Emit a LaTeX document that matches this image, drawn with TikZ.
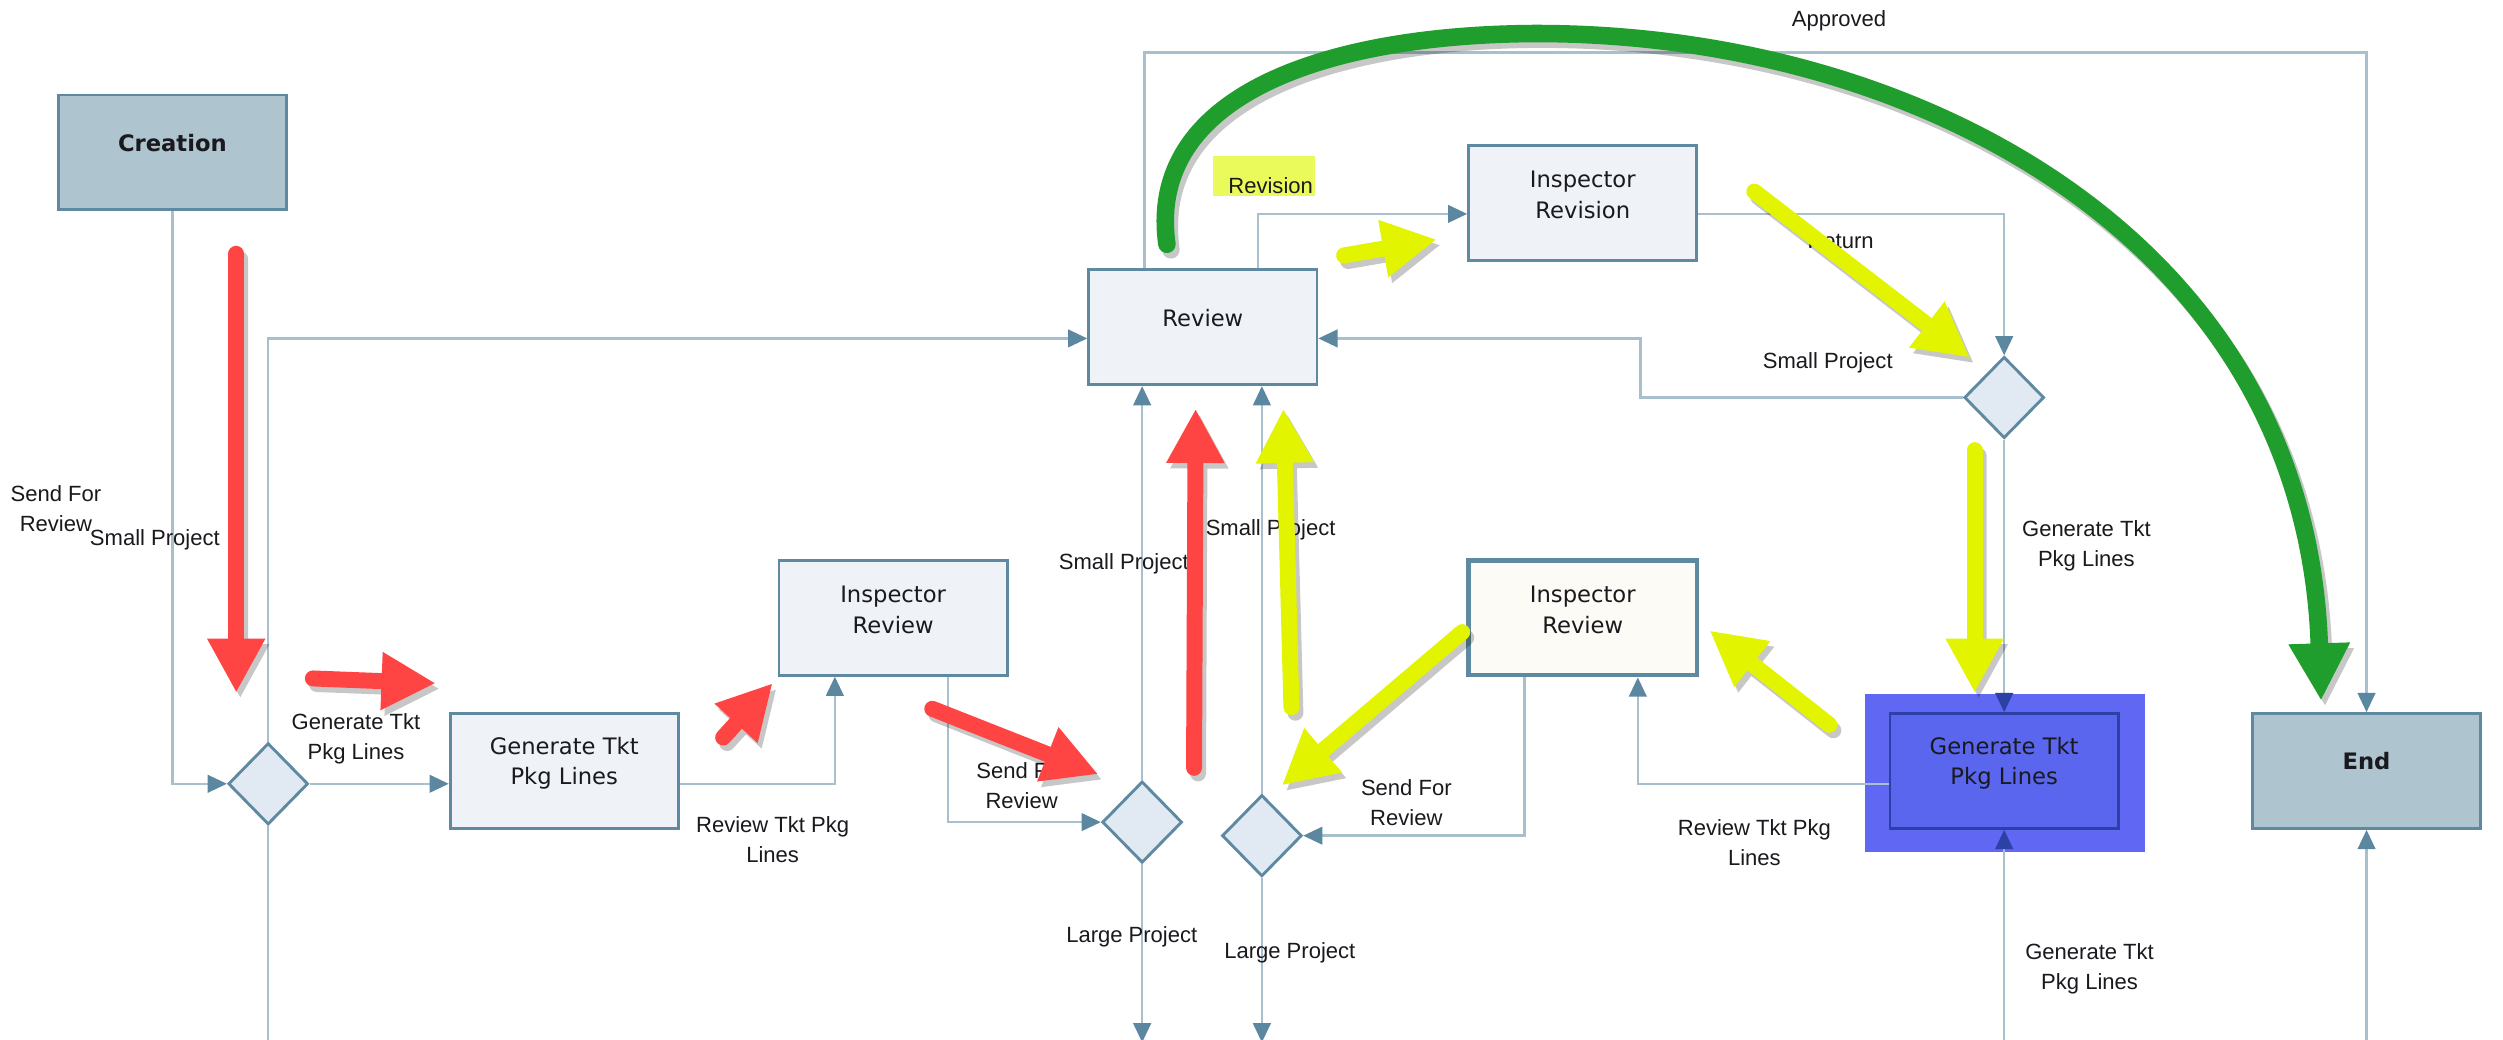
\documentclass[tikz,border=0pt]{standalone}
\usepackage{fontspec}
\setmainfont{DejaVu Sans}
\newfontfamily\lblfont{Liberation Sans}
\usetikzlibrary{arrows.meta,shapes.geometric}
\definecolor{boxborder}{RGB}{94,137,161}
\definecolor{boxfill}{RGB}{239,243,248}
\definecolor{termfill}{RGB}{174,196,207}
\definecolor{diafill}{RGB}{225,234,242}
\definecolor{linec}{RGB}{168,192,205}
\definecolor{arrowc}{RGB}{91,135,160}
\definecolor{creamfill}{RGB}{252,251,245}
\definecolor{hlblue}{RGB}{95,103,243}
\definecolor{genfill}{RGB}{90,102,238}
\definecolor{genborder}{RGB}{43,65,165}
\definecolor{redA}{RGB}{255,68,68}
\definecolor{yelA}{RGB}{226,244,0}
\definecolor{grnA}{RGB}{31,158,45}
\definecolor{revhlc}{RGB}{234,250,90}
\definecolor{txtc}{RGB}{25,25,30}
\tikzset{
  box/.style={draw=boxborder, line width=1.8pt, fill=boxfill, minimum width=143pt, minimum height=72pt, inner sep=0pt},
  term/.style={box, fill=termfill},
  dia/.style={diamond, draw=boxborder, line width=1.8pt, fill=diafill, minimum width=50pt, minimum height=51pt, inner sep=0pt},
  boxtext/.style={font=\fontsize{14.2}{19}\selectfont, align=center, text=txtc, inner sep=0pt},
  boldtext/.style={boxtext, font=\fontsize{14.2}{19}\selectfont\bfseries},
  lbl/.style={font=\lblfont\fontsize{13.8}{19}\selectfont, align=center, text=txtc, inner sep=0pt},
  conn/.style={draw=linec, line width=1.5pt, -{Triangle[length=12pt,width=11pt,color=arrowc]}},
  connb/.style={draw=linec, line width=1.5pt, -{Triangle[length=12pt,width=11pt,color=genborder]}},
  plainline/.style={draw=linec, line width=1.5pt},
  fat/.style={line width=10pt, line cap=round, -{Triangle[length=34pt,width=34pt]}},
  fatg/.style={line width=11pt, line cap=round, -{Triangle[length=36pt,width=36pt]}},
}
\newcommand\fatarrow[2]{%
  \begin{scope}[transform canvas={shift={(2.5pt,-3.5pt)}}]
    \begin{scope}[transparency group, opacity=0.22]
      \draw[#1, black] #2;
    \end{scope}
  \end{scope}
  \draw[#1] #2;
}
\begin{document}
\begin{tikzpicture}[x=1pt,y=-1pt]
\useasboundingbox[fill=white] (0,0) rectangle (1568,651);
\coordinate (bot) at (0,653);
\coordinate (apy) at (0,33);

% highlight behind the right Generate box
\node[fill=hlblue, minimum width=175pt, minimum height=99pt, inner sep=0pt] (genhl) at (1256,484.5) {};

% boxes
\node[term] (creation) at (108,95.5) {};
\node[boldtext] (creationT) at ([yshift=6pt]creation.center) {Creation};
\node[box] (review) at (753.5,205) {};
\node[boxtext] (reviewT) at ([yshift=6pt]review.center) {Review};
\node[box] (insprev) at (991.5,127) {};
\node[boxtext] (insprevT) at ([yshift=5pt]insprev.center) {Inspector\\Revision};
\node[box] (insrevL) at (559.5,387) {};
\node[boxtext] (insrevLT) at ([yshift=5pt]insrevL.center) {Inspector\\Review};
\node[box, fill=creamfill, line width=2.8pt] (insrevR) at (991.5,387) {};
\node[boxtext] (insrevRT) at ([yshift=5pt]insrevR.center) {Inspector\\Review};
\node[box] (genL) at (353.5,483) {};
\node[boxtext] (genLT) at ([yshift=5pt]genL.center) {Generate Tkt\\Pkg Lines};
\node[box, fill=genfill, draw=genborder] (genR) at (1255.5,483) {};
\node[boxtext] (genRT) at ([yshift=5pt]genR.center) {Generate Tkt\\Pkg Lines};
\node[term] (endn) at (1482.5,483) {};
\node[boldtext] (endnT) at ([yshift=6pt]endn.center) {End};

% decisions
\node[dia] (d1) at (168,491) {};
\node[dia] (d2) at (715.5,515) {};
\node[dia] (d3) at (790.5,523.5) {};
\node[dia] (d4) at (1255.5,249) {};

% connectors
\draw[conn] (creation.south) |- (d1.west);
\draw[conn] (d1.north) |- ([yshift=-7pt]review.west);
\draw[plainline] (d1.south) -- (d1.south |- bot);
\draw[conn] (d1.east) -- ([yshift=-8pt]genL.west);
\draw[conn] ([yshift=-8pt]genL.east) -| ([xshift=-36.5pt]insrevL.south);
\draw[conn] ([xshift=34.5pt]insrevL.south) |- (d2.west);
\draw[conn] (d2.north) -- (d2.north |- review.south);
\draw[conn] (d2.south) -- (d2.south |- bot);
\draw[conn] (d3.north) -- (d3.north |- review.south);
\draw[conn] (d3.south) -- (d3.south |- bot);
\draw[conn] ([xshift=-36.5pt]insrevR.south) |- (d3.east);
\draw[conn] ([yshift=-8pt]genR.west) -| ([xshift=34.5pt]insrevR.south);
\draw[conn] ([xshift=-36.5pt]review.north) |- (endn.north |- apy) -- (endn.north);
\draw[conn] ([xshift=34.5pt]review.north) |- ([yshift=-7pt]insprev.west);
\draw[conn] ([yshift=-7pt]insprev.east) -| (d4.north);
\draw[conn] (d4.west) -- ++(-202,0) |- ([yshift=-7pt]review.east);
\draw[connb] (d4.south) -- (genR.north);
\draw[connb] (genR.south |- bot) -- (genR.south);
\draw[conn] (endn.south |- bot) -- (endn.south);

% connector labels
\node[lbl] (l1) at (35,318.5) {Send For\\Review};
\node[lbl] (l2) at (97,338) {Small Project};
\node[lbl] (l3) at (223,463) {Generate Tkt\\Pkg Lines};
\node[lbl] (l4) at (484,526) {Review Tkt Pkg\\Lines};
\node[lbl] (l5) at (640,492) {Send For\\Review};
\node[lbl] (l6) at (704,353) {Small Project};
\node[lbl] (l7) at (709,587) {Large Project};
\node[lbl] (l8) at (796,332) {Small Project};
\node[lbl] (l9) at (808,597) {Large Project};
\node[lbl] (l10) at (881,503) {Send For\\Review};
\node[lbl] (l11) at (1099,528) {Review Tkt Pkg\\Lines};
\node[lbl] (l12) at (1152,13) {Approved};
\node[fill=revhlc, minimum width=64pt, minimum height=25pt, inner sep=0pt] (revhl) at (792,110.5) {};
\node[lbl] (l13) at (796,116) {Revision};
\node[lbl] (l14) at (1153,151) {Return};
\node[lbl] (l15) at (1145,227) {Small Project};
\node[lbl] (l16) at (1307,342) {Generate Tkt\\Pkg Lines};
\node[lbl] (l17) at (1309,607) {Generate Tkt\\Pkg Lines};

% annotation arrows
\coordinate (r1a) at (148,159);   \coordinate (r1b) at (148,434);
\coordinate (r2a) at (196,425);   \coordinate (r2b) at (273,428);
\coordinate (r3a) at (453,462);   \coordinate (r3b) at (484,428);
\coordinate (r4a) at (584,444);   \coordinate (r4b) at (688,485);
\coordinate (r5a) at (748,481);   \coordinate (r5b) at (749,256);
\coordinate (y6a) at (842,160);   \coordinate (y6b) at (900,150);
\coordinate (y7a) at (1099,120);  \coordinate (y7b) at (1234,224);
\coordinate (y8a) at (1237,282);  \coordinate (y8b) at (1237,434);
\coordinate (y9a) at (1146,454);  \coordinate (y9b) at (1071,395);
\coordinate (y10a) at (916,396);  \coordinate (y10b) at (803,492);
\coordinate (y11a) at (809,443);  \coordinate (y11b) at (804,256);
\coordinate (g0) at (731,153);
\coordinate (g1) at (718,60);
\coordinate (g2) at (830,22);
\coordinate (g3) at (960,21);
\coordinate (g4) at (1200,20);
\coordinate (g5) at (1445,150);
\coordinate (g6) at (1454,439);

\fatarrow{fat, redA}{(r1a) -- (r1b)}
\fatarrow{fat, redA}{(r2a) -- (r2b)}
\fatarrow{fat, redA}{(r3a) -- (r3b)}
\fatarrow{fat, redA}{(r4a) -- (r4b)}
\fatarrow{fat, redA}{(r5a) -- (r5b)}
\fatarrow{fat, yelA}{(y6a) -- (y6b)}
\fatarrow{fat, yelA}{(y7a) -- (y7b)}
\fatarrow{fat, yelA}{(y8a) -- (y8b)}
\fatarrow{fat, yelA}{(y9a) -- (y9b)}
\fatarrow{fat, yelA}{(y10a) -- (y10b)}
\fatarrow{fat, yelA}{(y11a) -- (y11b)}
\fatarrow{fatg, grnA}{(g0) .. controls (g1) and (g2) .. (g3) .. controls (g4) and (g5) .. (g6)}
\end{tikzpicture}
\end{document}
